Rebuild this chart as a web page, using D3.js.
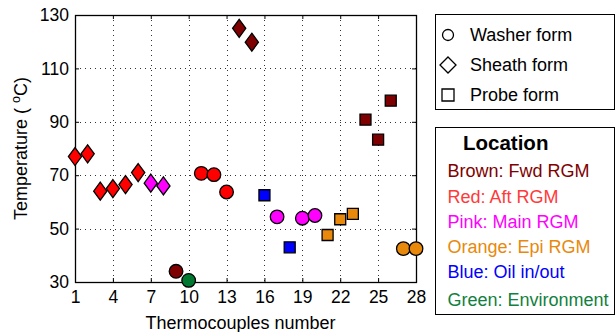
<!DOCTYPE html>
<html>
<head>
<meta charset="utf-8">
<script src="https://cdn.jsdelivr.net/npm/d3@7"></script>
<style>
  body { margin: 0; background: #fff; }
  svg { font-family: "Liberation Sans", Arial, sans-serif; }
</style>
</head>
<body>
<svg width="616" height="332"></svg>
<script>
'use strict';

// thermocouple number, measured temperature, sensor form and location
const tcNumbers = d3.range(1, 29);
const temps = [77, 78, 64, 65, 66.5, 71, 67, 66, 34, 30.6,
    70.7, 70.2, 63.7, 125, 119.8, 62.5, 54.4, 43, 53.9, 54.9,
    47.6, 53.5, 55.5, 90.8, 83.3, 97.9, 42.5, 42.5];
const forms = ['sheath', 'sheath', 'sheath', 'sheath', 'sheath', 'sheath', 'sheath', 'sheath',
    'washer', 'washer', 'washer', 'washer', 'washer', 'sheath', 'sheath', 'probe',
    'washer', 'probe', 'washer', 'washer', 'probe', 'probe', 'probe', 'probe',
    'probe', 'probe', 'washer', 'washer'];
const locations = ['red', 'red', 'red', 'red', 'red', 'red', 'pink', 'pink', 'brown', 'green',
    'red', 'red', 'red', 'brown', 'brown', 'blue', 'pink', 'blue', 'pink', 'pink',
    'orange', 'orange', 'orange', 'brown', 'brown', 'brown', 'orange', 'orange'];

const xTicks = [1, 4, 7, 10, 13, 16, 19, 22, 25, 28];
const yTicks = [30, 50, 70, 90, 110, 130];

const formLabels = [['washer', 'Washer form'], ['sheath', 'Sheath form'], ['probe', 'Probe form']];
const locationLabels = [
    ['brown', 'Brown: Fwd RGM'],
    ['red', 'Red: Aft RGM'],
    ['pink', 'Pink: Main RGM'],
    ['orange', 'Orange: Epi RGM'],
    ['blue', 'Blue: Oil in/out'],
    ['green', 'Green: Environment']
];

const fillColors = {
    brown: '#7f0000', red: '#ff0000', pink: '#ff00ff',
    orange: '#e8890c', blue: '#0000ff', green: '#00782f'
};
const textColors = {
    brown: '#800000', red: '#ff3a3a', pink: '#ff00ff',
    orange: '#e8890c', blue: '#0000ff', green: '#118040'
};

const svg = d3.select('svg');
const plotLeft = 75, plotRight = 416, plotTop = 15, plotBottom = 282;

const x = d3.scaleLinear().domain([1, 28]).range([plotLeft, plotRight]);
const y = d3.scaleLinear().domain([30, 130]).range([plotBottom, plotTop]);

// dotted grid
const grid = svg.append('g')
    .attr('stroke', '#333')
    .attr('stroke-width', 1)
    .attr('stroke-dasharray', '1,4');
grid.selectAll('.vg').data(xTicks.slice(1, -1)).enter().append('line')
    .attr('x1', d => Math.round(x(d)) + 0.5).attr('x2', d => Math.round(x(d)) + 0.5)
    .attr('y1', plotTop).attr('y2', plotBottom);
grid.selectAll('.hg').data(yTicks.slice(1, -1)).enter().append('line')
    .attr('y1', d => Math.round(y(d)) + 0.5).attr('y2', d => Math.round(y(d)) + 0.5)
    .attr('x1', plotLeft).attr('x2', plotRight);

// axes with inward ticks, mirrored on top and right
const fontSize = '17.5px';
svg.append('g')
    .attr('transform', 'translate(0,' + plotBottom + ')')
    .call(d3.axisBottom(x).tickValues(xTicks).tickSizeInner(-4).tickSizeOuter(0).tickPadding(9));
svg.append('g')
    .attr('transform', 'translate(' + plotLeft + ',0)')
    .call(d3.axisLeft(y).tickValues(yTicks).tickSizeInner(-4).tickSizeOuter(0).tickPadding(6));
svg.append('g')
    .attr('transform', 'translate(0,' + plotTop + ')')
    .call(d3.axisTop(x).tickValues(xTicks).tickSizeInner(-4).tickSizeOuter(0).tickFormat(''));
svg.append('g')
    .attr('transform', 'translate(' + plotRight + ',0)')
    .call(d3.axisRight(y).tickValues(yTicks).tickSizeInner(-4).tickSizeOuter(0).tickFormat(''));
svg.selectAll('.domain').remove();
svg.selectAll('.tick line').attr('stroke', '#000');
svg.selectAll('.tick text')
    .attr('font-family', '"Liberation Sans", Arial, sans-serif')
    .attr('font-size', fontSize)
    .attr('fill', '#000');

svg.append('rect')
    .attr('x', plotLeft + 0.5).attr('y', plotTop + 0.5)
    .attr('width', plotRight - plotLeft).attr('height', plotBottom - plotTop)
    .attr('fill', 'none').attr('stroke', '#000').attr('stroke-width', 1.3);

// axis titles
svg.append('text')
    .attr('x', (plotLeft + plotRight) / 2 - 5).attr('y', 329)
    .attr('text-anchor', 'middle').attr('font-size', '18px')
    .text('Thermocouples number');

const yLabel = svg.append('text')
    .attr('transform', 'translate(27,' + ((plotTop + plotBottom) / 2) + ') rotate(-90)')
    .attr('text-anchor', 'middle').attr('font-size', '18px');
yLabel.append('tspan').text('Temperature ( ');
yLabel.append('tspan').attr('font-size', '12.5px').attr('dy', -7).text('o');
yLabel.append('tspan').attr('dy', 7).text('C)');

// marker shapes
function markerPath(form) {
    if (form === 'washer') return 'M6.8,0A6.8,6.8 0 1,1 -6.8,0A6.8,6.8 0 1,1 6.8,0Z';
    if (form === 'sheath') return 'M0,-9L6.6,0L0,9L-6.6,0Z';
    return 'M-5.5,-5.5H5.5V5.5H-5.5Z';
}

const points = tcNumbers.map((n, i) => ({n: n, t: temps[i], form: forms[i], loc: locations[i]}));

svg.append('g').selectAll('path')
    .data(points).enter().append('path')
    .attr('transform', d => 'translate(' + x(d.n) + ',' + y(d.t) + ')')
    .attr('d', d => markerPath(d.form))
    .attr('fill', d => fillColors[d.loc])
    .attr('stroke', '#000')
    .attr('stroke-width', 1.3);

// legend: marker forms
svg.append('rect')
    .attr('x', 435.5).attr('y', 14.5).attr('width', 179).attr('height', 95)
    .attr('fill', '#fff').attr('stroke', '#000').attr('stroke-width', 1);
const formLegend = svg.append('g').selectAll('g')
    .data(formLabels).enter().append('g')
    .attr('transform', (d, i) => 'translate(448,' + (35 + i * 30) + ')');
formLegend.append('path')
    .attr('d', d => d[0] === 'washer'
        ? 'M5.5,0A5.5,5.5 0 1,1 -5.5,0A5.5,5.5 0 1,1 5.5,0Z'
        : d[0] === 'sheath' ? 'M0,-8L8,0L0,8L-8,0Z' : 'M-6,-6H6V6H-6Z')
    .attr('fill', 'none').attr('stroke', '#000').attr('stroke-width', 1.3);
formLegend.append('text')
    .attr('x', 22).attr('dy', '0.35em')
    .attr('font-size', '18px')
    .text(d => d[1]);

// legend: locations
svg.append('rect')
    .attr('x', 435.5).attr('y', 127.5).attr('width', 179).attr('height', 187)
    .attr('fill', '#fff').attr('stroke', '#000').attr('stroke-width', 1);
svg.append('text')
    .attr('x', 463).attr('y', 143).attr('dy', '0.35em')
    .attr('font-size', '20.5px').attr('font-weight', 'bold')
    .text('Location');
svg.append('g').selectAll('text')
    .data(locationLabels).enter().append('text')
    .attr('x', 447.5)
    .attr('y', (d, i) => i < 5 ? 171 + i * 25.2 : 300)
    .attr('dy', '0.35em')
    .attr('font-size', '18px')
    .attr('fill', d => textColors[d[0]])
    .text(d => d[1]);
</script>
</body>
</html>
